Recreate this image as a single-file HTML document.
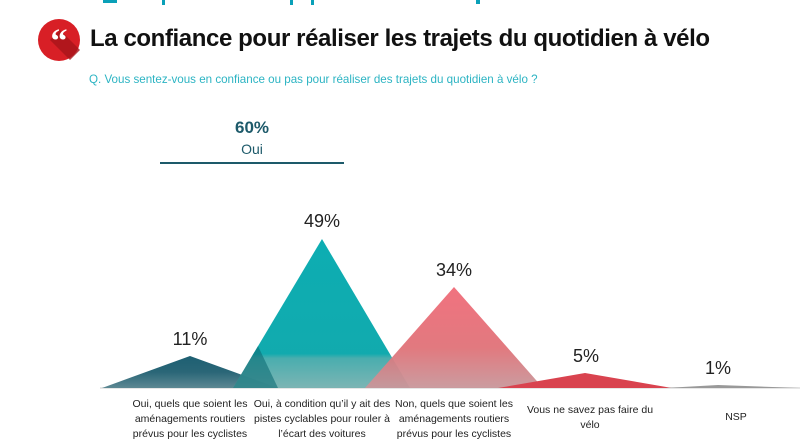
<!DOCTYPE html>
<html><head><meta charset="utf-8"><style>
body{margin:0;width:803px;height:445px;background:#fff;overflow:hidden;font-family:"Liberation Sans",sans-serif;position:relative}
.t{position:absolute;white-space:nowrap}
.lab{position:absolute;text-align:center;font-size:10.5px;line-height:15px;color:#222;width:150px}
</style></head><body>
<svg width="803" height="445" style="position:absolute;left:0;top:0">
<defs>
<linearGradient id="g1" x1="0" y1="0" x2="0" y2="1" gradientUnits="objectBoundingBox"><stop offset="0" stop-color="#1d5f72"/><stop offset="0.5" stop-color="#2a6677"/><stop offset="1" stop-color="#5d8893"/></linearGradient>
<linearGradient id="g2" x1="0" y1="239" x2="0" y2="388" gradientUnits="userSpaceOnUse"><stop offset="0" stop-color="#00a9ae"/><stop offset="0.77" stop-color="#05a6aa"/><stop offset="0.8" stop-color="#40a9aa"/><stop offset="1" stop-color="#75b1b0"/></linearGradient>
<linearGradient id="g3" x1="0" y1="287" x2="0" y2="388" gradientUnits="userSpaceOnUse"><stop offset="0" stop-color="#f06b78"/><stop offset="0.6" stop-color="#e07278"/><stop offset="1" stop-color="#c8979b"/></linearGradient>
</defs>
<g fill="#0aa0b8"><rect x="103" y="0" width="14" height="3"/><rect x="162" y="0" width="3" height="5"/><rect x="290" y="0" width="3" height="5"/><rect x="311" y="0" width="3" height="5"/><rect x="476" y="0" width="4" height="4"/></g>
<line x1="100" y1="388" x2="800" y2="388" stroke="#ddd" stroke-width="1.5"/>
<polygon points="102,388 190,356 278,388" fill="url(#g1)"/>
<polygon points="233,388 322,239 410,388" fill="url(#g2)" opacity="0.95"/>
<polygon points="233,388 258,346 278,388" fill="#0e6c74" opacity="0.6"/>
<polygon points="365,388 454,287 543,388" fill="url(#g3)" opacity="0.95"/>
<polygon points="498,388 585,373 672,388" fill="#d9434f"/>
<polygon points="665,388 718,385 800,388" fill="#999"/>
<line x1="160" y1="163" x2="344" y2="163" stroke="#1d5a6a" stroke-width="2"/>
<circle cx="59" cy="40" r="21" fill="#d81f26"/>
<polygon points="50,40 70,60 80,50 60,30" fill="#a8141a" opacity="0.8"/>
<text x="59" y="52" text-anchor="middle" font-family="Liberation Serif" font-weight="bold" font-size="34" fill="#fff">“</text>
</svg>
<div class="t" style="left:90px;top:25px;font-size:24px;font-weight:bold;color:#111;letter-spacing:-0.4px">La confiance pour réaliser les trajets du quotidien à vélo</div>
<div class="t" style="left:89px;top:73px;font-size:11.6px;color:#2cb4c3">Q. Vous sentez-vous en confiance ou pas pour réaliser des trajets du quotidien à vélo ?</div>
<div class="t" style="left:222px;top:118px;width:60px;text-align:center;font-size:17px;font-weight:bold;color:#1d5a6a">60%</div>
<div class="t" style="left:222px;top:141px;width:60px;text-align:center;font-size:14px;color:#1d5a6a">Oui</div>
<div class="t" style="left:160px;top:329px;width:60px;text-align:center;font-size:18px;color:#222">11%</div>
<div class="t" style="left:292px;top:211px;width:60px;text-align:center;font-size:18px;color:#222">49%</div>
<div class="t" style="left:424px;top:260px;width:60px;text-align:center;font-size:18px;color:#222">34%</div>
<div class="t" style="left:556px;top:346px;width:60px;text-align:center;font-size:18px;color:#222">5%</div>
<div class="t" style="left:688px;top:358px;width:60px;text-align:center;font-size:18px;color:#222">1%</div>
<div class="lab" style="left:115px;top:397px">Oui, quels que soient les<br>aménagements routiers<br>prévus pour les cyclistes</div>
<div class="lab" style="left:247px;top:397px">Oui, à condition qu’il y ait des<br>pistes cyclables pour rouler à<br>l’écart des voitures</div>
<div class="lab" style="left:379px;top:397px">Non, quels que soient les<br>aménagements routiers<br>prévus pour les cyclistes</div>
<div class="lab" style="left:515px;top:403px">Vous ne savez pas faire du<br>vélo</div>
<div class="lab" style="left:661px;top:410px">NSP</div>
</body></html>
